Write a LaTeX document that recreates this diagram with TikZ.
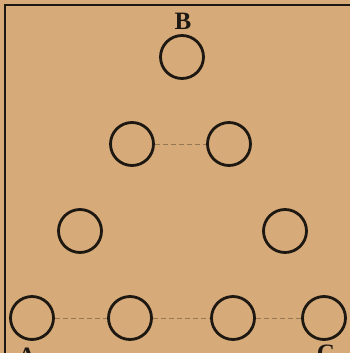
\documentclass[tikz,border=0pt]{standalone}
\usepackage{xcolor}
\usepackage{fontspec}
\setmainfont{Liberation Serif}
\usepackage{tikz}
\definecolor{paper}{RGB}{214,171,121}
\definecolor{ink}{RGB}{30,24,19}

\begin{document}
\begin{tikzpicture}[x=1pt, y=-1pt,
    ball/.style={circle, draw=ink, line width=2.8pt, minimum size=43pt, inner sep=0pt},
    lbl/.style={font=\fontsize{25}{25}\selectfont\bfseries, text=ink, inner sep=0pt},
    faint/.style={draw=ink!35!paper, line width=0.8pt, dash pattern=on 5pt off 3pt},
    frame/.style={draw=ink, line width=2pt}
]
\useasboundingbox (0,0) rectangle (350,353);
\fill[paper] (0,0) rectangle (350,353);
\clip (0,0) rectangle (350,353);

% page rule and margin
\coordinate (tl) at (5,5);
\coordinate (tr) at (350,5);
\coordinate (bl) at (5,353);
\draw[frame] (tr) -- (tl) -- (bl);

\node[ball] (b)  at (182,57)  {};
\node[ball] (l2) at (132,144) {};
\node[ball] (r2) at (229,144) {};
\node[ball] (l3) at (80,231)  {};
\node[ball] (r3) at (285,231) {};
\node[ball] (a)  at (32,318)  {};
\node[ball] (m1) at (130,318) {};
\node[ball] (m2) at (233,318) {};
\node[ball] (c)  at (324,318) {};

\node[lbl, anchor=base] (lb) at (183,30)  {B};
\node[lbl, anchor=base] (la) at (27,364)  {A};
\node[lbl, anchor=base] (lc) at (326,361) {C};

\draw[faint] (l2) -- (r2);
\draw[faint] (a)  -- (m1);
\draw[faint] (m1) -- (m2);
\draw[faint] (m2) -- (c);

\end{tikzpicture}
\end{document}
